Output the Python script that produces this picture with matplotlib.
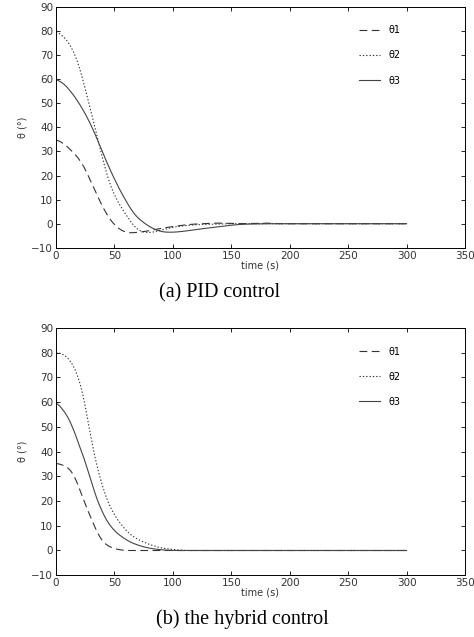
import matplotlib
matplotlib.use('Agg')
import matplotlib.pyplot as plt
import numpy as np

# time samples (s) and readings for each joint angle
t_pid = [0, 5, 12, 20, 26, 32, 38, 43, 49, 52, 58, 60, 66, 69, 75, 79, 83, 90, 100,
         112, 120, 140, 150, 160, 180, 190, 300]
th1_pid = [35, 34, 31, 27, 22, 15, 9, 4, 0, -1.5, -3.3, -3.8, -3.8, -3.6, -3.3, -3.0, -2.6,
           -1.9, -1.2, -0.4, -0.1, 0.3, 0.1, 0, 0.3, 0, 0]
th2_pid = [80, 78.5, 74.8, 66, 54, 43, 30.7, 21, 12.5, 10, 5, 3.7, -0.5, -2.5, -3.5, -3.9, -3.5,
           -2.7, -1.4, -0.7, -0.4, -0.1, 0, 0, 0, 0, 0]
th3_pid = [60, 59, 55.5, 50, 45, 39, 32, 26, 19.6, 16.5, 11, 9.5, 4.4, 2.8, 0.5, -1.0, -2.0,
           -3.4, -3.6, -3.0, -2.4, -1.2, -0.6, -0.2, 0, 0, 0]

t_hyb = [0, 6, 9, 12, 15, 18, 20.5, 23, 26, 29, 32, 35, 37.6, 40.5, 43, 49, 58, 66, 77.6,
         89, 100, 110, 300]
th1_hyb = [35.4, 34.6, 34, 33, 31.3, 28, 24.5, 21, 17.7, 14.2, 11, 7.5, 4.9, 3.2, 2.2, 0.8,
           0, 0, 0, 0, 0, 0, 0]
th2_hyb = [80.2, 79.6, 78.7, 77, 75, 72, 68.5, 63.8, 57, 47.6, 40, 34, 30, 24.5, 21, 15, 9,
           5.5, 2.8, 1.1, 0.4, 0, 0]
th3_hyb = [60.4, 57, 55, 53, 49, 45, 42, 38.5, 35, 30, 24.5, 21, 17.7, 14.5, 12.3, 8.3, 4.9,
           2.8, 1.1, 0.3, 0, 0, 0]

labels = ['\u03b81', '\u03b82', '\u03b83']
captions = ['(a) PID control', '(b) the hybrid control']
xticks = [0, 50, 100, 150, 200, 250, 300, 350]
yticks = [-10, 0, 10, 20, 30, 40, 50, 60, 70, 80, 90]


def smooth(t, y, win=5.0):
    # fine linear interpolation, then a moving average to round the corners
    dt = 0.25
    tt = np.arange(0, 300 + dt / 2, dt)
    yy = np.interp(tt, t, y)
    n = int(win / dt)
    pad = np.concatenate([np.full(n, yy[0]), yy, np.full(n, yy[-1])])
    k = np.ones(2 * n + 1) / (2 * n + 1)
    return tt, np.convolve(pad, k, mode='valid')


fig = plt.figure(figsize=(4.74, 6.37), dpi=100)
ax_a = fig.add_axes([0.118, 0.611, 0.863, 0.378])
ax_b = fig.add_axes([0.118, 0.097, 0.863, 0.388])

sets = [(ax_a, t_pid, [th1_pid, th2_pid, th3_pid], 0.401, -0.187),
        (ax_b, t_hyb, [th1_hyb, th2_hyb, th3_hyb], 0.455, -0.178)]
styles = [dict(dashes=(7, 4), color='#333333'),
          dict(dashes=(1.2, 1.8), color='#333333'),
          dict(linestyle='-', color='#444444')]

for k, (ax, t, series, cx, cy) in enumerate(sets):
    for y, lab, st in zip(series, labels, styles):
        tt, yy = smooth(t, y)
        ax.plot(tt, yy, linewidth=0.8, label=lab, **st)
    ax.set_xlim(0, 350)
    ax.set_ylim(-10, 90)
    ax.set_xticks(xticks)
    ax.set_yticks(yticks)
    ax.tick_params(direction='in', top=True, right=True, labelsize=7.5,
                   length=3, width=0.6, labelcolor='#333333', pad=2)
    for s in ax.spines.values():
        s.set_linewidth(0.7)
    ax.set_xlabel('time (s)', fontsize=7, color='#333333', labelpad=0)
    ax.set_ylabel('\u03b8 (\u00b0)', fontsize=7, color='#333333', labelpad=3)
    ax.legend(loc='upper left', bbox_to_anchor=(0.72, 0.96), frameon=False,
              fontsize=7, handlelength=2.1, labelspacing=1.55, handletextpad=0.9)
    ax.text(cx, cy, captions[k], transform=ax.transAxes, ha='center', va='center',
            fontsize=14.5, family='Liberation Serif')

fig.savefig('out.png', dpi=100)
